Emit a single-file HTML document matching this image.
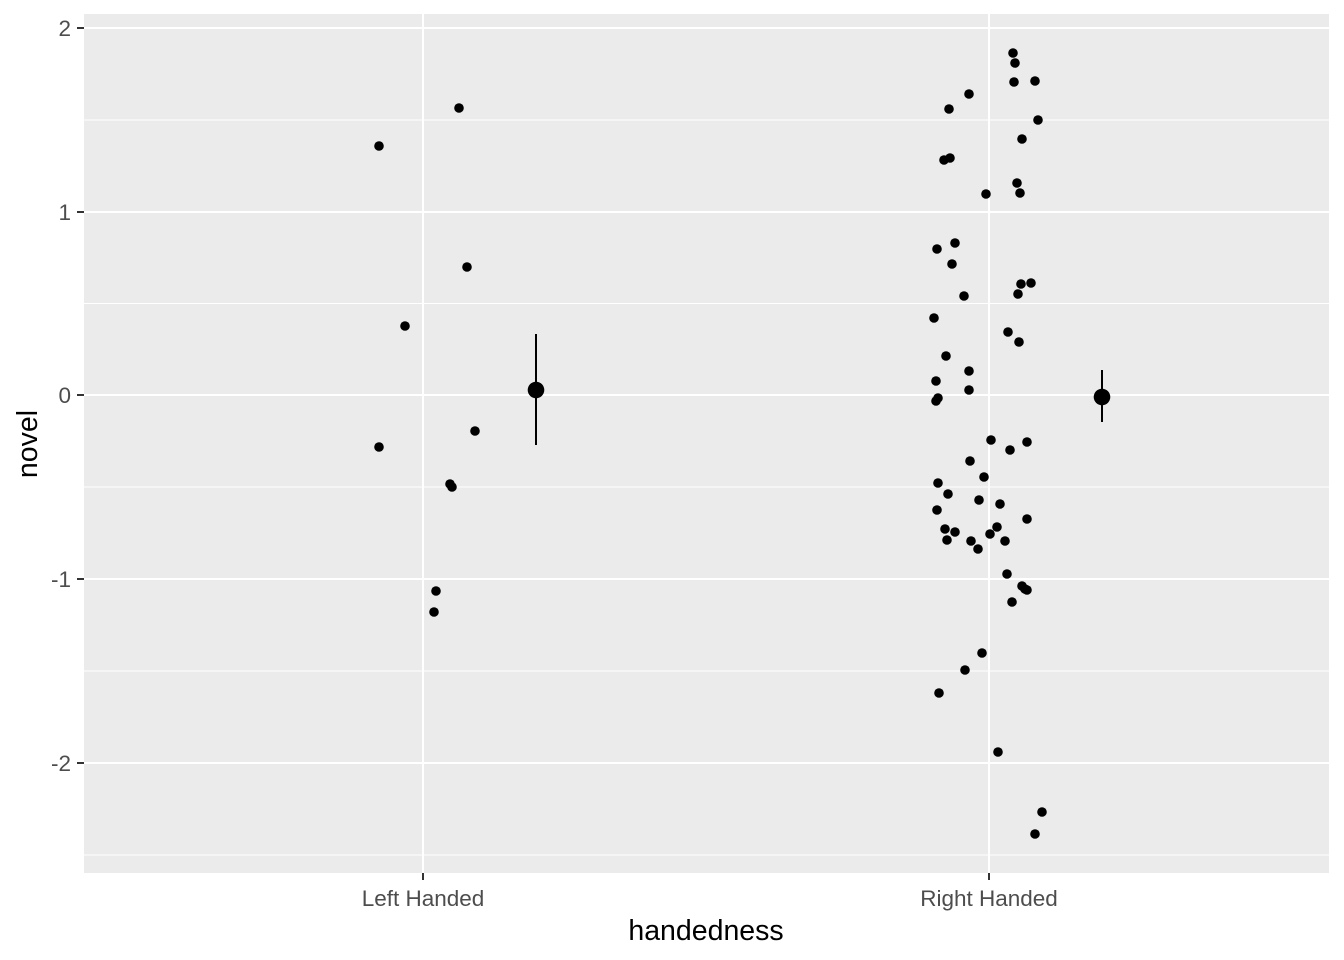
<!DOCTYPE html>
<html><head><meta charset="utf-8"><style>body{margin:0;background:#fff}svg{display:block}</style></head><body>
<svg width="1344" height="960" xmlns="http://www.w3.org/2000/svg" font-family="Liberation Sans, Arial, sans-serif">
<rect x="84" y="14" width="1245" height="859" fill="#ebebeb"/>
<g stroke="#fff" stroke-width="1">
<line x1="84" x2="1329" y1="120" y2="120"/><line x1="84" x2="1329" y1="303.5" y2="303.5"/><line x1="84" x2="1329" y1="487" y2="487"/><line x1="84" x2="1329" y1="671" y2="671"/><line x1="84" x2="1329" y1="855" y2="855"/>
</g>
<g stroke="#fff" stroke-width="2">
<line x1="84" x2="1329" y1="28" y2="28"/><line x1="84" x2="1329" y1="212" y2="212"/><line x1="84" x2="1329" y1="395" y2="395"/><line x1="84" x2="1329" y1="579" y2="579"/><line x1="84" x2="1329" y1="763" y2="763"/>
<line x1="423" x2="423" y1="14" y2="873"/><line x1="989" x2="989" y1="14" y2="873"/>
</g>
<g fill="#000">
<circle cx="379" cy="146" r="4.8"/><circle cx="459" cy="108" r="4.8"/><circle cx="467" cy="267" r="4.8"/><circle cx="405" cy="326" r="4.8"/><circle cx="379" cy="447" r="4.8"/><circle cx="475" cy="431" r="4.8"/><circle cx="450" cy="484" r="4.8"/><circle cx="452" cy="487" r="4.8"/><circle cx="436" cy="591" r="4.8"/><circle cx="434" cy="612" r="4.8"/>
<circle cx="536" cy="390" r="8.3"/>
<circle cx="1013" cy="53" r="4.8"/><circle cx="1015" cy="63" r="4.8"/><circle cx="1035" cy="81" r="4.8"/><circle cx="1014" cy="82" r="4.8"/><circle cx="969" cy="94" r="4.8"/><circle cx="949" cy="109" r="4.8"/><circle cx="1038" cy="120" r="4.8"/><circle cx="1022" cy="139" r="4.8"/><circle cx="950" cy="158" r="4.8"/><circle cx="944" cy="160" r="4.8"/><circle cx="1017" cy="183" r="4.8"/><circle cx="1020" cy="193" r="4.8"/><circle cx="986" cy="194" r="4.8"/><circle cx="955" cy="243" r="4.8"/><circle cx="937" cy="249" r="4.8"/><circle cx="952" cy="264" r="4.8"/><circle cx="1021" cy="284" r="4.8"/><circle cx="1031" cy="283" r="4.8"/><circle cx="1018" cy="294" r="4.8"/><circle cx="964" cy="296" r="4.8"/><circle cx="934" cy="318" r="4.8"/><circle cx="1008" cy="332" r="4.8"/><circle cx="1019" cy="342" r="4.8"/><circle cx="946" cy="356" r="4.8"/><circle cx="969" cy="371" r="4.8"/><circle cx="936" cy="381" r="4.8"/><circle cx="969" cy="390" r="4.8"/><circle cx="938" cy="398" r="4.8"/><circle cx="936" cy="401" r="4.8"/><circle cx="991" cy="440" r="4.8"/><circle cx="1027" cy="442" r="4.8"/><circle cx="1010" cy="450" r="4.8"/><circle cx="970" cy="461" r="4.8"/><circle cx="984" cy="477" r="4.8"/><circle cx="938" cy="483" r="4.8"/><circle cx="948" cy="494" r="4.8"/><circle cx="979" cy="500" r="4.8"/><circle cx="1000" cy="504" r="4.8"/><circle cx="937" cy="510" r="4.8"/><circle cx="1027" cy="519" r="4.8"/><circle cx="997" cy="527" r="4.8"/><circle cx="945" cy="529" r="4.8"/><circle cx="955" cy="532" r="4.8"/><circle cx="990" cy="534" r="4.8"/><circle cx="971" cy="541" r="4.8"/><circle cx="947" cy="540" r="4.8"/><circle cx="1005" cy="541" r="4.8"/><circle cx="978" cy="549" r="4.8"/><circle cx="1007" cy="574" r="4.8"/><circle cx="1022" cy="586" r="4.8"/><circle cx="1025" cy="589" r="4.8"/><circle cx="1027" cy="590" r="4.8"/><circle cx="1012" cy="602" r="4.8"/><circle cx="982" cy="653" r="4.8"/><circle cx="965" cy="670" r="4.8"/><circle cx="939" cy="693" r="4.8"/><circle cx="998" cy="752" r="4.8"/><circle cx="1042" cy="812" r="4.8"/><circle cx="1035" cy="834" r="4.8"/>
<circle cx="1102" cy="397" r="8.3"/>
</g>
<g stroke="#000" stroke-width="2">
<line x1="536" x2="536" y1="334" y2="445"/><line x1="1102" x2="1102" y1="370" y2="422"/>
</g>
<g stroke="#333" stroke-width="2">
<line x1="77" x2="84" y1="28" y2="28"/><line x1="77" x2="84" y1="212" y2="212"/><line x1="77" x2="84" y1="395" y2="395"/><line x1="77" x2="84" y1="579" y2="579"/><line x1="77" x2="84" y1="763" y2="763"/>
<line x1="423" x2="423" y1="873" y2="880"/><line x1="989" x2="989" y1="873" y2="880"/>
</g>
<g fill="#4d4d4d" font-size="22.5" text-anchor="end">
<text x="71" y="36">2</text><text x="71" y="220">1</text><text x="71" y="403">0</text><text x="71" y="587">-1</text><text x="71" y="771">-2</text>
</g>
<g fill="#4d4d4d" font-size="22.5" text-anchor="middle">
<text x="423" y="906">Left Handed</text><text x="989" y="906">Right Handed</text>
</g>
<text x="706" y="940" font-size="28.5" text-anchor="middle" fill="#000">handedness</text>
<text transform="translate(37,444) rotate(-90)" font-size="28.5" text-anchor="middle" fill="#000">novel</text>
</svg>
</body></html>
